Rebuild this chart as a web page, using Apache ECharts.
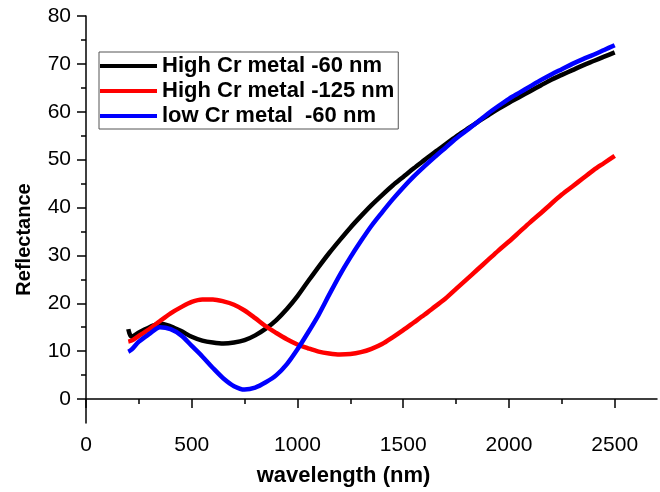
<!DOCTYPE html>
<html>
<head>
<meta charset="utf-8">
<script src="https://cdn.jsdelivr.net/npm/echarts@6/dist/echarts.min.js"></script>
<style>
  html, body { margin: 0; padding: 0; background: #fff; }
  #chart { width: 660px; height: 492px; }
</style>
</head>
<body>
<div id="chart"></div>
<script>
const wavelength = [200, 215, 250, 300, 350, 400, 450, 500, 550, 600, 650, 700, 750, 800, 850, 900, 950, 1000,
  1050, 1100, 1150, 1200, 1250, 1300, 1350, 1400, 1450, 1500, 1550, 1600, 1650, 1700, 1750, 1800, 1850, 1900,
  1950, 2000, 2050, 2100, 2150, 2200, 2250, 2300, 2350, 2400, 2450, 2500];
const highCr60 = [14.6, 13.0, 13.9, 15.0, 15.8, 15.2, 14.2, 13.0, 12.2, 11.8, 11.6, 11.8, 12.3, 13.3, 14.7, 16.5, 18.8, 21.5,
  24.6, 27.6, 30.5, 33.2, 35.8, 38.2, 40.5, 42.6, 44.6, 46.4, 48.2, 49.9, 51.6, 53.2, 54.8, 56.3, 57.8, 59.2,
  60.6, 61.9, 63.1, 64.3, 65.5, 66.7, 67.7, 68.7, 69.7, 70.6, 71.5, 72.4];
const highCr125 = [12.0, 12.2, 13.2, 14.6, 16.3, 17.9, 19.2, 20.3, 20.8, 20.8, 20.4, 19.7, 18.5, 16.9, 15.2, 13.8, 12.5, 11.4,
  10.6, 9.9, 9.5, 9.3, 9.4, 9.8, 10.5, 11.5, 12.9, 14.4, 16.0, 17.6, 19.3, 21.0, 23.0, 25.0, 27.0, 29.0,
  31.0, 32.9, 34.9, 36.9, 38.8, 40.8, 42.7, 44.4, 46.1, 47.8, 49.3, 50.8];
const lowCr60 = [9.9, 10.3, 12.0, 13.6, 15.0, 14.6, 13.3, 11.1, 8.9, 6.5, 4.3, 2.7, 2.0, 2.4, 3.5, 5.0, 7.3, 10.4,
  13.9, 17.6, 21.8, 25.9, 29.6, 33.0, 36.2, 39.0, 41.7, 44.2, 46.5, 48.6, 50.6, 52.5, 54.4, 56.1, 57.8, 59.6,
  61.2, 62.7, 64.0, 65.3, 66.6, 67.8, 68.9, 70.0, 71.0, 71.9, 72.9, 73.9];

const xMajor = [0, 500, 1000, 1500, 2000, 2500];
const xMinor = [250, 750, 1250, 1750, 2250];
const yMajor = [0, 10, 20, 30, 40, 50, 60, 70, 80];
const yMinor = [5, 15, 25, 35, 45, 55, 65, 75];

const seriesNames = ['High Cr metal -60 nm', 'High Cr metal -125 nm', 'low Cr metal  -60 nm'];
const seriesColors = ['#000000', '#ff0000', '#0000ff'];
const seriesValues = [highCr60, highCr125, lowCr60];

const font = '"Liberation Sans", Arial, sans-serif';
const plain = (v) => String(v);

const chart = echarts.init(document.getElementById('chart'));

chart.setOption({
  animation: false,
  backgroundColor: '#fff',
  grid: { left: 86, right: 3, top: 16, bottom: 66, containLabel: false },
  legend: {
    orient: 'vertical',
    left: 99,
    top: 52,
    icon: 'rect',
    itemWidth: 57,
    itemHeight: 4,
    itemGap: 3,
    padding: [3, 4, 2, 1],
    borderColor: '#555',
    borderWidth: 1,
    textStyle: { fontFamily: font, fontSize: 22, fontWeight: 'bold', color: '#000', lineHeight: 21 },
    data: seriesNames,
  },
  xAxis: [
    {
      type: 'value',
      min: 0,
      max: 2700,
      position: 'bottom',
      name: 'wavelength (nm)',
      nameLocation: 'middle',
      nameGap: 42,
      nameTextStyle: { fontFamily: font, fontSize: 22, fontWeight: 'bold', color: '#000', padding: [0, 56, 0, 0] },
      axisLine: { show: true, lineStyle: { color: '#000', width: 1.5 } },
      axisTick: { show: true, length: 9, customValues: xMajor, lineStyle: { color: '#000', width: 1.5 } },
      axisLabel: { customValues: xMajor, formatter: plain, margin: 12, fontFamily: font, fontSize: 21, color: '#000' },
      splitLine: { show: false },
    },
    {
      type: 'value',
      min: 0,
      max: 2700,
      position: 'bottom',
      axisLine: { show: false },
      axisTick: { show: true, length: 5, customValues: xMinor, lineStyle: { color: '#000', width: 1.5 } },
      axisLabel: { show: false },
      splitLine: { show: false },
    },
  ],
  yAxis: [
    {
      type: 'value',
      min: -5,
      max: 80,
      position: 'left',
      name: 'Reflectance',
      nameLocation: 'middle',
      nameGap: 52,
      nameRotate: 90,
      nameTextStyle: { fontFamily: font, fontSize: 20, fontWeight: 'bold', color: '#000', padding: [0, 40, 0, 0] },
      axisLine: { show: true, lineStyle: { color: '#000', width: 1.5 } },
      axisTick: { show: true, length: 9, customValues: yMajor, lineStyle: { color: '#000', width: 1.5 } },
      axisLabel: { customValues: yMajor, formatter: plain, margin: 15, fontFamily: font, fontSize: 21, color: '#000' },
      splitLine: { show: false },
    },
    {
      type: 'value',
      min: -5,
      max: 80,
      position: 'left',
      axisLine: { show: false },
      axisTick: { show: true, length: 5, customValues: yMinor, lineStyle: { color: '#000', width: 1.5 } },
      axisLabel: { show: false },
      splitLine: { show: false },
    },
  ],
  series: seriesNames.map((name, i) => ({
    name,
    type: 'line',
    xAxisIndex: 0,
    yAxisIndex: 0,
    smooth: 0.3,
    showSymbol: false,
    symbol: 'none',
    color: seriesColors[i],
    lineStyle: { width: 4.5, color: seriesColors[i] },
    data: wavelength.map((w, j) => [w, seriesValues[i][j]]),
  })),
});
</script>
</body>
</html>
